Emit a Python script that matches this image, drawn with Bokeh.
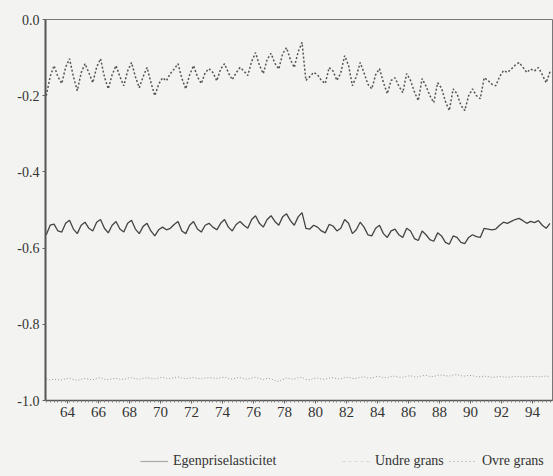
from bokeh.plotting import figure
from bokeh.layouts import column
from bokeh.models import FixedTicker, Legend, LegendItem, Range1d
from bokeh.embed import file_html
from bokeh.resources import INLINE

# Quarterly data, 1963Q1 - 1995Q3
start_year = 1963

egenpriselasticitet = [
    -0.565, -0.540, -0.537, -0.555,  # 1963
    -0.558, -0.535, -0.527, -0.550,  # 1964
    -0.562, -0.540, -0.532, -0.548,  # 1965
    -0.555, -0.532, -0.525, -0.548,  # 1966
    -0.560, -0.540, -0.530, -0.550,  # 1967
    -0.558, -0.535, -0.527, -0.550,  # 1968
    -0.562, -0.543, -0.535, -0.555,  # 1969
    -0.568, -0.552, -0.545, -0.552,  # 1970
    -0.548, -0.538, -0.530, -0.555,  # 1971
    -0.562, -0.540, -0.530, -0.550,  # 1972
    -0.558, -0.540, -0.535, -0.545,  # 1973
    -0.552, -0.535, -0.525, -0.545,  # 1974
    -0.555, -0.538, -0.530, -0.540,  # 1975
    -0.548, -0.525, -0.515, -0.535,  # 1976
    -0.545, -0.525, -0.515, -0.530,  # 1977
    -0.540, -0.518, -0.510, -0.528,  # 1978
    -0.540, -0.518, -0.507, -0.548,  # 1979
    -0.550, -0.540, -0.545, -0.555,  # 1980
    -0.560, -0.538, -0.542, -0.555,  # 1981
    -0.548, -0.525, -0.535, -0.562,  # 1982
    -0.552, -0.532, -0.545, -0.565,  # 1983
    -0.568, -0.548, -0.540, -0.562,  # 1984
    -0.572, -0.555, -0.550, -0.565,  # 1985
    -0.572, -0.548, -0.555, -0.575,  # 1986
    -0.580, -0.555, -0.565, -0.578,  # 1987
    -0.582, -0.560, -0.568, -0.585,  # 1988
    -0.590, -0.568, -0.572, -0.585,  # 1989
    -0.588, -0.572, -0.565, -0.570,  # 1990
    -0.572, -0.548, -0.550, -0.552,  # 1991
    -0.550, -0.540, -0.532, -0.535,  # 1992
    -0.530, -0.525, -0.522, -0.528,  # 1993
    -0.535, -0.530, -0.533, -0.528,  # 1994
    -0.540, -0.548, -0.535,          # 1995
]

ovre_grans = [
    -0.200, -0.150, -0.121, -0.150,  # 1963
    -0.168, -0.125, -0.103, -0.150,  # 1964
    -0.187, -0.140, -0.116, -0.140,  # 1965
    -0.166, -0.125, -0.103, -0.150,  # 1966
    -0.182, -0.145, -0.121, -0.150,  # 1967
    -0.174, -0.135, -0.113, -0.150,  # 1968
    -0.179, -0.150, -0.126, -0.165,  # 1969
    -0.200, -0.170, -0.153, -0.161,  # 1970
    -0.142, -0.130, -0.116, -0.155,  # 1971
    -0.182, -0.145, -0.121, -0.150,  # 1972
    -0.168, -0.140, -0.129, -0.139,  # 1973
    -0.161, -0.130, -0.116, -0.140,  # 1974
    -0.158, -0.140, -0.126, -0.135,  # 1975
    -0.147, -0.110, -0.087, -0.120,  # 1976
    -0.142, -0.105, -0.089, -0.115,  # 1977
    -0.130, -0.090, -0.074, -0.105,  # 1978
    -0.126, -0.085, -0.060, -0.160,  # 1979
    -0.150, -0.139, -0.145, -0.160,  # 1980
    -0.168, -0.126, -0.135, -0.160,  # 1981
    -0.140, -0.095, -0.120, -0.174,  # 1982
    -0.150, -0.113, -0.140, -0.170,  # 1983
    -0.182, -0.145, -0.129, -0.165,  # 1984
    -0.195, -0.160, -0.153, -0.175,  # 1985
    -0.192, -0.142, -0.160, -0.190,  # 1986
    -0.213, -0.155, -0.175, -0.200,  # 1987
    -0.218, -0.166, -0.180, -0.215,  # 1988
    -0.239, -0.182, -0.195, -0.225,  # 1989
    -0.239, -0.200, -0.182, -0.200,  # 1990
    -0.208, -0.153, -0.160, -0.170,  # 1991
    -0.174, -0.150, -0.134, -0.139,  # 1992
    -0.130, -0.120, -0.113, -0.125,  # 1993
    -0.139, -0.130, -0.135, -0.126,  # 1994
    -0.145, -0.166, -0.137,          # 1995
]

undre_grans = [
    -0.943, -0.946, -0.944, -0.945,  # 1963
    -0.946, -0.943, -0.941, -0.945,  # 1964
    -0.947, -0.945, -0.942, -0.944,  # 1965
    -0.946, -0.942, -0.940, -0.944,  # 1966
    -0.945, -0.943, -0.942, -0.944,  # 1967
    -0.945, -0.941, -0.940, -0.943,  # 1968
    -0.944, -0.942, -0.940, -0.942,  # 1969
    -0.943, -0.941, -0.939, -0.942,  # 1970
    -0.942, -0.940, -0.938, -0.941,  # 1971
    -0.943, -0.941, -0.940, -0.942,  # 1972
    -0.943, -0.941, -0.940, -0.941,  # 1973
    -0.942, -0.940, -0.939, -0.942,  # 1974
    -0.944, -0.941, -0.940, -0.943,  # 1975
    -0.944, -0.941, -0.939, -0.942,  # 1976
    -0.945, -0.942, -0.943, -0.948,  # 1977
    -0.950, -0.945, -0.941, -0.943,  # 1978
    -0.944, -0.940, -0.939, -0.945,  # 1979
    -0.946, -0.942, -0.941, -0.944,  # 1980
    -0.944, -0.941, -0.940, -0.943,  # 1981
    -0.943, -0.940, -0.939, -0.942,  # 1982
    -0.942, -0.939, -0.938, -0.941,  # 1983
    -0.941, -0.938, -0.937, -0.940,  # 1984
    -0.940, -0.937, -0.936, -0.939,  # 1985
    -0.939, -0.936, -0.935, -0.938,  # 1986
    -0.938, -0.935, -0.934, -0.937,  # 1987
    -0.937, -0.934, -0.933, -0.935,  # 1988
    -0.936, -0.933, -0.932, -0.935,  # 1989
    -0.936, -0.934, -0.935, -0.937,  # 1990
    -0.938, -0.936, -0.937, -0.939,  # 1991
    -0.939, -0.937, -0.938, -0.939,  # 1992
    -0.938, -0.937, -0.937, -0.938,  # 1993
    -0.938, -0.937, -0.937, -0.938,  # 1994
    -0.937, -0.936, -0.937,          # 1995
]

x_tick_years = [1964, 1966, 1968, 1970, 1972, 1974, 1976, 1978,
                1980, 1982, 1984, 1986, 1988, 1990, 1992, 1994]
x_tick_labels = ["64", "66", "68", "70", "72", "74", "76", "78",
                 "80", "82", "84", "86", "88", "90", "92", "94"]
y_ticks = [0.0, -0.2, -0.4, -0.6, -0.8, -1.0]
y_tick_labels = ["0.0", "-0.2", "-0.4", "-0.6", "-0.8", "-1.0"]

legend_labels = ["Egenpriselasticitet", "Undre grans", "Ovre grans"]

t = [start_year + i / 4 for i in range(len(egenpriselasticitet))]

BG = "#f3f3f1"
FONT = "'Liberation Serif', 'Times New Roman', serif"

p = figure(width=553, height=430, output_backend="svg", toolbar_location=None,
           x_range=Range1d(1962.95, 1995.66), y_range=Range1d(-1.0, 0.0),
           min_border_left=45, min_border_top=19, min_border_right=1,
           min_border_bottom=30, background_fill_color=BG, border_fill_color=BG)
p.grid.visible = False
p.outline_line_color = "#777777"
p.outline_line_width = 1

p.line(t, egenpriselasticitet, line_color="#444444", line_width=1.3)
p.line(t, ovre_grans, line_color="#555555", line_width=1.5, line_dash="2 2")
p.line(t, undre_grans, line_color="#9a9a9a", line_width=1, line_dash="1 2")

# axes
major_x = [y + 0.375 for y in x_tick_years]
minor_x = [start_year + i / 4 for i in range(len(t) + 2)]
p.xaxis.ticker = FixedTicker(ticks=major_x, minor_ticks=minor_x)
p.xaxis.major_label_overrides = {m: l for m, l in zip(major_x, x_tick_labels)}
p.xaxis.major_tick_in = 0
p.xaxis.major_tick_out = 3
p.xaxis.minor_tick_in = 0
p.xaxis.minor_tick_out = 2
p.xaxis.axis_line_color = "#555555"
p.xaxis.axis_line_width = 1.5
p.xaxis.major_tick_line_color = "#666666"
p.xaxis.minor_tick_line_color = "#888888"
p.xaxis.major_label_text_font = FONT
p.xaxis.major_label_text_font_size = "15px"
p.xaxis.major_label_text_color = "#333333"
p.xaxis.major_label_standoff = 3

p.yaxis.ticker = FixedTicker(ticks=y_ticks, minor_ticks=[])
p.yaxis.major_label_overrides = {v: l for v, l in zip(y_ticks, y_tick_labels)}
p.yaxis.major_tick_in = 0
p.yaxis.major_tick_out = 3
p.yaxis.axis_line_color = "#555555"
p.yaxis.axis_line_width = 2
p.yaxis.major_tick_line_color = "#666666"
p.yaxis.major_label_text_font = FONT
p.yaxis.major_label_text_font_size = "14px"
p.yaxis.major_label_text_color = "#333333"
p.yaxis.major_label_standoff = 3

# legend strip below the chart (frame aligned with the main chart's frame)
lg = figure(width=553, height=46, output_backend="svg", toolbar_location=None,
            x_range=Range1d(0, 1), y_range=Range1d(0, 1),
            x_axis_location=None, y_axis_location=None,
            min_border_left=45, min_border_right=1, min_border_top=0, min_border_bottom=0,
            background_fill_color=BG, border_fill_color=BG)
lg.grid.visible = False
lg.outline_line_color = None

# legend-only renderers; their points lie outside the strip's ranges, so only
# the legend samples are seen
off = [5, 6]
s1 = lg.line(off, off, line_color="#a8a8a8", line_width=1.2)
s2 = lg.line(off, off, line_color="#d8d8d8", line_width=1, line_dash="3 3")
s3 = lg.line(off, off, line_color="#a0a0a0", line_width=1.2, line_dash="1 3")

for renderer, label, xpos in zip([s1, s2, s3], legend_labels, [95, 297, 404]):
    leg = Legend(items=[LegendItem(label=label, renderers=[renderer])],
                 location=(xpos, 7), background_fill_alpha=0, border_line_alpha=0,
                 padding=0, margin=0, glyph_width=28, glyph_height=14,
                 label_standoff=5, label_text_font=FONT, label_text_font_size="14px",
                 label_text_color="#333333", label_height=14)
    lg.add_layout(leg, "center")

layout = column(p, lg, spacing=0)

html = file_html(layout, INLINE)
html = html.replace("</head>", "<style>html, body {background: %s;}</style></head>" % BG, 1)
open("out.html", "w").write(html)
